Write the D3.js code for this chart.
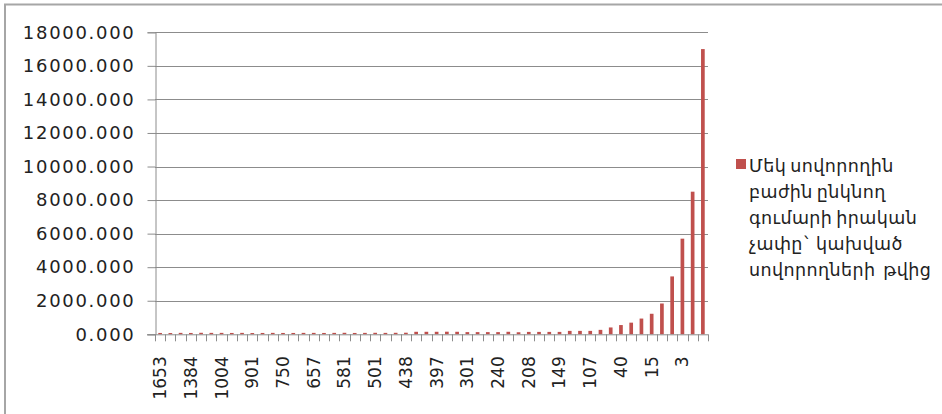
<!DOCTYPE html>
<html>
<head>
<meta charset="utf-8">
<script src="https://cdn.jsdelivr.net/npm/d3@7"></script>
<style>
  html, body { margin: 0; padding: 0; background: #fff; overflow: hidden; }
</style>
</head>
<body>
<svg id="chart"></svg>
<script>
// bar heights, one per student-count category (left to right)
const values = [
  80, 75, 85, 80, 90, 85, 85, 80, 85, 75, 80, 85, 80, 80, 85, 85, 80,
  85, 90, 80, 85, 90, 85, 90, 95,
  150, 150, 150, 155, 150,
  130, 130, 130, 130, 150,
  122, 143, 143, 143, 143, 204, 204, 204, 265, 408, 551, 694, 938,
  1224, 1836, 3450, 5700, 8500, 17000
];
// only every third category is labelled on the axis
const tickLabels = ['1653', '1384', '1004', '901', '750', '657', '581', '501', '438',
  '397', '301', '240', '208', '149', '107', '40', '15', '3'];
const yTicks = [0, 2000, 4000, 6000, 8000, 10000, 12000, 14000, 16000, 18000];
const legendLines = ['Մեկ սովորողին', 'բաժին ընկնող', 'գումարի իրական', 'չափը` կախված', 'սովորողների  թվից'];

const width = 942, height = 414;
const plotLeft = 155, plotRight = 708, plotTop = 32.3, plotBottom = 334.3;
const barColor = '#c0504d';
const font = '"DejaVu Sans", sans-serif';

const svg = d3.select('#chart')
  .attr('width', width)
  .attr('height', height)
  .style('font-family', font);

// outer frame, only top and left edges show
svg.append('rect')
  .attr('x', 5).attr('y', 4.5)
  .attr('width', 1000).attr('height', 500)
  .attr('fill', 'none')
  .attr('stroke', '#a6a6a6')
  .attr('stroke-width', 2);

const idx = values.map((d, i) => i);

const x = d3.scaleBand()
  .domain(idx)
  .range([plotLeft, plotRight])
  .paddingInner(0.64)
  .paddingOuter(0.32);

const y = d3.scaleLinear()
  .domain([0, 18000])
  .range([plotBottom, plotTop]);

// gridlines
svg.append('g')
  .selectAll('line')
  .data(yTicks.filter(t => t > 0))
  .enter()
  .append('line')
  .attr('x1', plotLeft).attr('x2', plotRight)
  .attr('y1', d => Math.round(y(d)) + 0.5)
  .attr('y2', d => Math.round(y(d)) + 0.5)
  .attr('stroke', '#8c8c8c')
  .attr('stroke-width', 1);

// y axis
const yAxis = d3.axisLeft(y)
  .tickValues(yTicks)
  .tickSize(8)
  .tickPadding(12)
  .tickFormat(d3.format('.3f'));

const gy = svg.append('g')
  .attr('transform', `translate(${plotLeft + 0.5},0)`)
  .call(yAxis)
  .attr('font-family', null);
gy.select('.domain').attr('stroke', '#8c8c8c');
gy.selectAll('.tick line').attr('stroke', '#8c8c8c');
gy.selectAll('.tick text')
  .attr('fill', '#222')
  .style('font-family', font)
  .style('font-size', '18px')
  .style('letter-spacing', '1.7px');

// bars
svg.append('g')
  .selectAll('rect')
  .data(values)
  .enter()
  .append('rect')
  .attr('x', (d, i) => x(i))
  .attr('y', d => y(d))
  .attr('width', x.bandwidth())
  .attr('height', d => plotBottom - y(d))
  .attr('fill', barColor);

// x axis line and category separators
const step = x.step();
const gx = svg.append('g');
gx.append('line')
  .attr('x1', plotLeft - 8).attr('x2', plotRight)
  .attr('y1', plotBottom + 0.5).attr('y2', plotBottom + 0.5)
  .attr('stroke', '#8c8c8c');
gx.selectAll('line.sep')
  .data(idx.concat([values.length]))
  .enter()
  .append('line')
  .attr('class', 'sep')
  .attr('x1', d => Math.round(plotLeft + d * step) + 0.5)
  .attr('x2', d => Math.round(plotLeft + d * step) + 0.5)
  .attr('y1', plotBottom)
  .attr('y2', plotBottom + 7)
  .attr('stroke', '#8c8c8c');

// x labels, rotated
const xAxis = d3.axisBottom(x)
  .tickValues(tickLabels.map((t, k) => k * 3))
  .tickSize(0)
  .tickFormat(d => tickLabels[d / 3]);

const gxl = svg.append('g')
  .attr('transform', `translate(0,${plotBottom})`)
  .call(xAxis)
  .attr('font-family', null);
gxl.select('.domain').remove();
gxl.selectAll('.tick text')
  .attr('fill', '#222')
  .style('font-family', font)
  .style('font-size', '17px')
  .attr('text-anchor', 'end')
  .attr('transform', 'rotate(-90)')
  .attr('x', -22)
  .attr('y', 0)
  .attr('dy', '0.35em');

// legend
const legend = svg.append('g');
legend.append('rect')
  .attr('x', 736).attr('y', 159)
  .attr('width', 10).attr('height', 10)
  .attr('fill', barColor);
legend.selectAll('text')
  .data(legendLines)
  .enter()
  .append('text')
  .attr('x', 749)
  .attr('y', (d, i) => 172 + i * 26)
  .attr('fill', '#222')
  .style('font-size', '17.5px')
  .style('letter-spacing', '0.4px')
  .style('word-spacing', '-2px')
  .style('white-space', 'pre')
  .text(d => d);
</script>
</body>
</html>
